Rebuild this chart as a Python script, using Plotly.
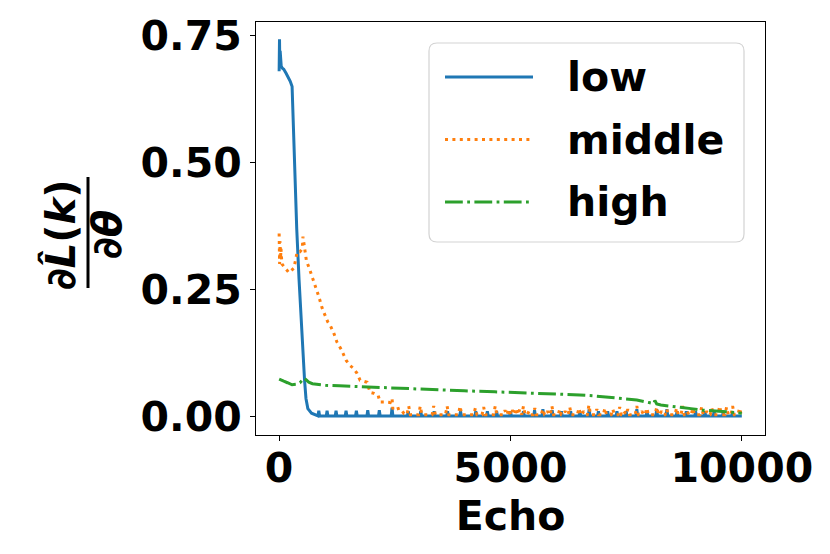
import plotly.graph_objects as go

# ---------------- data ----------------
series_names = ["low", "middle", "high"]

# low: main curve, then flat baseline with small periodic spikes
low_x = [0, 8, 15, 22, 30, 45, 70, 100, 150, 200, 240, 280, 330, 380, 430, 480,
         520, 550, 580, 620, 700, 800, 900, 9999]
low_y = [0.68, 0.743, 0.69, 0.72, 0.70, 0.69, 0.686, 0.684, 0.676, 0.668, 0.66,
         0.65, 0.50, 0.37, 0.27, 0.18, 0.12, 0.07, 0.035, 0.015, 0.006, 0.002,
         0.0008, 0.0005]
low_base = 0.0005
low_spike_x = [857, 1036, 1230, 1446, 1669, 1915, 2165, 2440, 2790, 3060, 3350,
               3640, 3920, 4250, 4500, 4700, 5000, 5280, 5520, 5700, 5900, 6100,
               6300, 6500, 6700, 6900, 7100, 7300, 7500, 7730, 7950, 8160, 8380,
               8600, 8800, 9000, 9200, 9400, 9600, 9800]
low_spike_y = [0.011, 0.011, 0.011, 0.011, 0.011, 0.012, 0.012, 0.017, 0.010,
               0.010, 0.010, 0.010, 0.010, 0.010, 0.010, 0.010, 0.010, 0.010,
               0.012, 0.014, 0.012, 0.010, 0.010, 0.010, 0.014, 0.010, 0.010,
               0.010, 0.010, 0.014, 0.010, 0.014, 0.014, 0.010, 0.010, 0.010,
               0.010, 0.010, 0.010, 0.010]

# middle: main curve, then baseline with spiky clusters
mid_x = [0, 10, 20, 30, 40, 60, 110, 210, 320, 350, 390, 450, 500, 515, 535, 560,
         590, 650, 700, 750, 800, 860, 930, 990, 1050, 1110, 1180, 1250, 1340,
         1450, 1530, 1600, 1680, 1750, 1850, 1900, 1965, 2050, 2140, 2180, 2290,
         2400, 2440, 2460, 2610, 2700, 9999]
mid_y = [0.36, 0.30, 0.345, 0.31, 0.33, 0.30, 0.295, 0.283, 0.292, 0.305, 0.324,
         0.324, 0.33, 0.354, 0.338, 0.322, 0.306, 0.292, 0.279, 0.265, 0.249,
         0.235, 0.213, 0.20, 0.186, 0.178, 0.164, 0.146, 0.132, 0.11, 0.10,
         0.095, 0.085, 0.071, 0.068, 0.067, 0.047, 0.045, 0.041, 0.028, 0.028,
         0.027, 0.035, 0.012, 0.016, 0.005, 0.003]
mid_base = 0.003
mid_spike_x = [2800, 3050, 3340, 3630, 3910, 4240, 4420, 4670, 4880, 4960, 5040,
               5120, 5200, 5280, 5400, 5525, 5700, 5800, 5895, 6065, 6180, 6280,
               6480, 6580, 6695, 6865, 7040, 7210, 7360, 7450, 7535, 7730, 7840,
               7945, 8160, 8260, 8375, 8590, 8720, 8820, 8940, 9130, 9240, 9350,
               9520, 9670, 9800, 9950]
mid_spike_y = [0.020, 0.020, 0.020, 0.020, 0.020, 0.016, 0.018, 0.020, 0.012,
               0.014, 0.012, 0.016, 0.014, 0.020, 0.010, 0.016, 0.014, 0.010,
               0.020, 0.014, 0.010, 0.018, 0.016, 0.010, 0.022, 0.014, 0.016,
               0.014, 0.018, 0.010, 0.014, 0.020, 0.010, 0.016, 0.018, 0.010,
               0.014, 0.016, 0.020, 0.010, 0.016, 0.018, 0.010, 0.016, 0.020,
               0.018, 0.020, 0.016]

# high
high_x = [0, 40, 100, 180, 280, 380, 450, 500, 540, 580, 640, 720, 850, 1000,
          1300, 1800, 2500, 3200, 4000, 4660, 5270, 6110, 6500, 6820, 7200, 7550,
          7730, 7990, 8100, 8120, 8160, 8250, 8400, 8630, 8900, 9130, 9500, 9890,
          9999]
high_y = [0.073, 0.071, 0.069, 0.066, 0.062, 0.063, 0.066, 0.071, 0.075, 0.072,
          0.067, 0.064, 0.062, 0.061, 0.060, 0.058, 0.055, 0.052, 0.050, 0.048,
          0.046, 0.044, 0.042, 0.040, 0.037, 0.034, 0.032, 0.027, 0.025, 0.031,
          0.024, 0.022, 0.020, 0.018, 0.015, 0.012, 0.010, 0.006, 0.006]

x_ticks = [0, 5000, 10000]
x_tick_labels = ["0", "5000", "10000"]
y_ticks = [0.0, 0.25, 0.5, 0.75]
y_tick_labels = ["0.00", "0.25", "0.50", "0.75"]

colors = ["#1f77b4", "#ff7f0e", "#2ca02c"]
dashes = ["solid", "3px,4.4px", "17.8px,4.4px,2.8px,4.4px"]
LW = 3


def with_spikes(xs, ys, base, sx, sy, half):
    pts = list(zip(xs, ys))
    for s, h in zip(sx, sy):
        pts += [(s - half, base), (s, h), (s + half, base)]
    pts.sort(key=lambda p: p[0])
    return [p[0] for p in pts], [p[1] for p in pts]


lx, ly = with_spikes(low_x, low_y, low_base, low_spike_x, low_spike_y, 18)
mx, my = with_spikes(mid_x, mid_y, mid_base, mid_spike_x, mid_spike_y, 35)

fig = go.Figure()
for (xx, yy), nm, c, d in zip([(lx, ly), (mx, my), (high_x, high_y)],
                             series_names, colors, dashes):
    fig.add_trace(go.Scatter(x=xx, y=yy, mode="lines", name=nm,
                             line=dict(color=c, width=LW, dash=d)))

FONT = dict(family="DejaVu Sans", size=41, color="black", weight="bold")

# plot-area geometry (px) used to convert layout positions to paper coords
L, R, T, B = 256, 765, 22, 435
W, H = R - L, B - T


def px(x):
    return (x - L) / W


def py(y):
    return (B - y) / H


shapes = []
annotations = []

# legend box (rounded)
bx0, bx1, by0, by1 = px(429), px(744), py(242), py(43)
rx, ry = 8 / W, 8 / H
path = (f"M{bx0+rx},{by0} L{bx1-rx},{by0} Q{bx1},{by0} {bx1},{by0+ry} "
        f"L{bx1},{by1-ry} Q{bx1},{by1} {bx1-rx},{by1} L{bx0+rx},{by1} "
        f"Q{bx0},{by1} {bx0},{by1-ry} L{bx0},{by0+ry} Q{bx0},{by0} {bx0+rx},{by0} Z")
shapes.append(dict(type="path", xref="paper", yref="paper", path=path,
                   line=dict(color="#d3d3d3", width=1.2),
                   fillcolor="rgba(255,255,255,0.8)", layer="above"))
for i, (nm, c, d) in enumerate(zip(series_names, colors, dashes)):
    yy = py(77 + i * 62.5)
    shapes.append(dict(type="line", xref="paper", yref="paper",
                       x0=px(445), x1=px(533), y0=yy, y1=yy,
                       line=dict(color=c, width=LW, dash=d), layer="above"))
    annotations.append(dict(xref="paper", yref="paper", x=px(565), y=yy,
                            xanchor="left", yanchor="middle", text=nm,
                            showarrow=False, font=dict(FONT, size=41)))

# y-axis label as a fraction
annotations.append(dict(xref="paper", yref="paper", x=px(60), y=py(235),
                        xanchor="center", yanchor="middle", textangle=-90,
                        text="∂<i>L\u0302</i>(<i>k</i>)", showarrow=False,
                        font=dict(FONT, size=40)))
annotations.append(dict(xref="paper", yref="paper", x=px(107), y=py(235),
                        xanchor="center", yanchor="middle", textangle=-90,
                        text="∂<i>θ</i>", showarrow=False,
                        font=dict(FONT, size=40)))
shapes.append(dict(type="line", xref="paper", yref="paper",
                   x0=px(88), x1=px(88), y0=py(177), y1=py(288),
                   line=dict(color="black", width=3)))

fig.update_layout(
    width=830, height=554,
    margin=dict(l=L, r=830 - R, t=T, b=554 - B, pad=0),
    plot_bgcolor="white", paper_bgcolor="white",
    showlegend=False, font=FONT,
    shapes=shapes, annotations=annotations,
)
axis_common = dict(ticks="outside", ticklen=5, tickwidth=1.1, tickcolor="black",
                   showline=True, linecolor="black", linewidth=1.1, mirror=True,
                   showgrid=False, zeroline=False, tickfont=FONT)
fig.update_xaxes(range=[-500, 10500], tickvals=x_ticks, ticktext=x_tick_labels,
                 ticklabelstandoff=-8,
                 title=dict(text="Echo", font=dict(FONT, size=41), standoff=4),
                 **axis_common)
fig.update_yaxes(range=[-0.037, 0.777], tickvals=y_ticks, ticktext=y_tick_labels,
                 **axis_common)

fig.write_html("out.html", config={"displayModeBar": False},
               post_script="document.body.style.margin='0';"
                           "document.body.style.overflow='hidden';")
